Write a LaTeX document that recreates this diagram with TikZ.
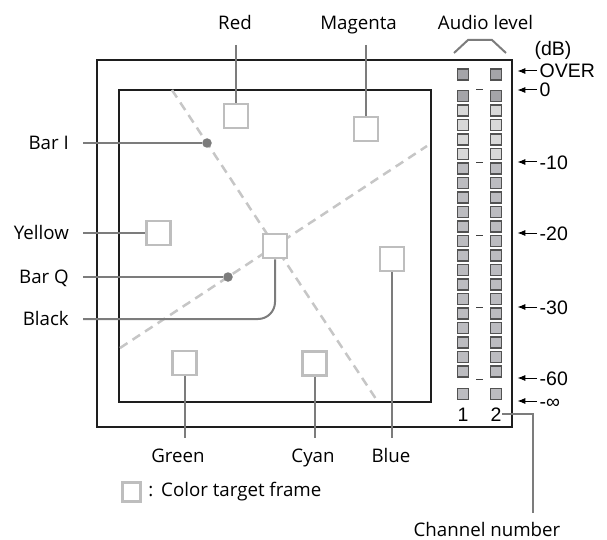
\documentclass[tikz,border=0pt]{standalone}
\usepackage{fontspec}
\newfontfamily\lblfont{Open Sans}
\newfontfamily\dbfont{Liberation Sans}
\usetikzlibrary{positioning,arrows.meta,calc}
\definecolor{framecol}{HTML}{1E1E1E}
\definecolor{tgtgray}{HTML}{BEBEBE}
\definecolor{guidegray}{HTML}{C6C6C6}
\definecolor{leadgray}{HTML}{7C7C7C}
\definecolor{cellhi}{HTML}{A4A4A8}
\definecolor{celllo}{HTML}{D8D8D8}
\definecolor{cellmid}{HTML}{BCBCC0}
\tikzset{
  >={Latex[length=8pt,width=6pt]},
  scrframe/.style={draw=framecol,line width=2.6pt,inner sep=0pt},
  target/.style={draw=tgtgray,fill=white,line width=2.6pt,minimum size=24pt,
    inner sep=0pt},
  guide/.style={draw=guidegray,line width=2.5pt,dash pattern=on 9pt off 6pt},
  lead/.style={draw=leadgray,line width=2pt},
  bardot/.style={circle,fill=leadgray,inner sep=0pt,minimum size=9.5pt},
  lbl/.style={font=\lblfont\fontsize{18.7}{22}\selectfont,inner sep=3pt},
  dblbl/.style={font=\dbfont\fontsize{19.5}{22}\selectfont,inner sep=0.5pt,
    text height=14pt,text depth=0pt},
  cell/.style={draw=black!68,line width=1.2pt,minimum size=11pt,inner sep=0pt},
  mtick/.style={draw=black!75,line width=1pt},
  dbarrow/.style={->,line width=1pt,shorten >=4pt,shorten <=2pt},
}
\begin{document}
\begin{tikzpicture}[x=1pt,y=-1pt]
  \useasboundingbox (0,0) rectangle (607,540);
  % screen frames
  \node[scrframe,minimum width=415pt,minimum height=367pt] (outer) at (304.5,243.5) {};
  \node[scrframe,minimum width=312pt,minimum height=312pt] (inner) at (275,246) {};
  % bar I / bar Q guide lines
  \coordinate (gA1) at (172,90);
  \coordinate (gA2) at (376,399);
  \coordinate (gB1) at (120,348);
  \coordinate (gB2) at (427,146);
  \draw[guide] (gA1) -- (gA2);
  \draw[guide] (gB1) -- (gB2);
  % colour target frames
  \node[target] (sqRed) at (236,116) {};
  \node[target] (sqMagenta) at (366,129) {};
  \node[target] (sqYellow) at (158.5,233) {};
  \node[target] (sqBlack) at (275,246) {};
  \node[target] (sqBlue) at (392,259) {};
  \node[target] (sqGreen) at (184.5,363) {};
  \node[target] (sqCyan) at (314.5,363.5) {};
  \node[bardot] (dotI) at (207,143) {};
  \node[bardot] (dotQ) at (228,277) {};
  % audio level meter
  \foreach \ch/\x in {1/463,2/496}{
    \node[cell,fill=cellhi] (ovr\ch) at (\x,74.5) {};
    \foreach \i in {0,...,19}{
      \ifnum\i=0 \def\cfill{cellhi}\else\ifnum\i<5 \def\cfill{celllo}\else\def\cfill{cellmid}\fi\fi
      \node[cell,fill=\cfill] (lv\ch-\i) at (\x,96+14.5*\i) {};
    }
    \node[cell,fill=cellmid] (inf\ch) at (\x,394) {};
    \node[dblbl] (chn\ch) at (\x,414) {\ch};
  }
  \foreach \y in {90,162.5,235,307.5,379.5}
    \draw[mtick] (476,\y) -- (483,\y);
  \draw[lead] (454,53) -- (468,40) -- (492,40) -- (506,53);
  % dB scale
  \node[dblbl] (dbunit) at (553,49) {(dB)};
  \foreach \n/\y/\t in {a/71/OVER,b/90/0,c/162/-10,d/233/-20,e/307/-30,f/378/-60,g/401/-∞}{
    \node[dblbl,anchor=west] (db\n) at (539,\y) {\t};
    \draw[dbarrow] (db\n.west) -- (db\n.west -| outer.east);
  }
  % labels
  \coordinate (tipTop) at (0,45);
  \coordinate (tipBot) at (0,438);
  \coordinate (tipLeft) at (83,0);
  \node[lbl,anchor=base] (lblRed) at (235,29.5) {Red};
  \node[lbl,anchor=base] (lblMagenta) at (358.5,29.5) {Magenta};
  \node[lbl,anchor=base] (lblAudio) at (485.5,29.5) {Audio level};
  \node[lbl,anchor=base east] (lblBarI) at (72,149.7) {Bar I};
  \node[lbl,anchor=base east] (lblYellow) at (72,239.7) {Yellow};
  \node[lbl,anchor=base east] (lblBarQ) at (72,283.7) {Bar Q};
  \node[lbl,anchor=base east] (lblBlack) at (72,325.7) {Black};
  \node[lbl,anchor=base] (lblGreen) at (178,462) {Green};
  \node[lbl,anchor=base] (lblCyan) at (313,462) {Cyan};
  \node[lbl,anchor=base] (lblBlue) at (391,462) {Blue};
  \node[lbl,anchor=base,inner sep=1pt] (lblChan) at (487,536) {Channel number};
  % connectors
  \draw[lead] (sqRed.north |- tipTop) -- (sqRed.north);
  \draw[lead] (sqMagenta.north |- tipTop) -- (sqMagenta.north);
  \draw[lead] (tipLeft |- dotI) -- (dotI);
  \draw[lead] (tipLeft |- sqYellow.west) -- (sqYellow.west);
  \draw[lead] (tipLeft |- dotQ) -- (dotQ);
  \draw[lead,rounded corners=17pt] (tipLeft |- 0,319) -| (sqBlack.south);
  \draw[lead] (sqGreen.south) -- (sqGreen.south |- tipBot);
  \draw[lead] (sqCyan.south) -- (sqCyan.south |- tipBot);
  \draw[lead] (sqBlue.south) -- (sqBlue.south |- tipBot);
  \coordinate (tipChan) at (533,513);
  \draw[lead] (chn2.east) -| (tipChan);
  % legend
  \node[target,minimum size=18.5pt] (legsq) at (131.5,492) {};
  \node[lbl,right=3pt of legsq] (legtxt) {:\hspace{8pt}Color target frame};
\end{tikzpicture}
\end{document}
